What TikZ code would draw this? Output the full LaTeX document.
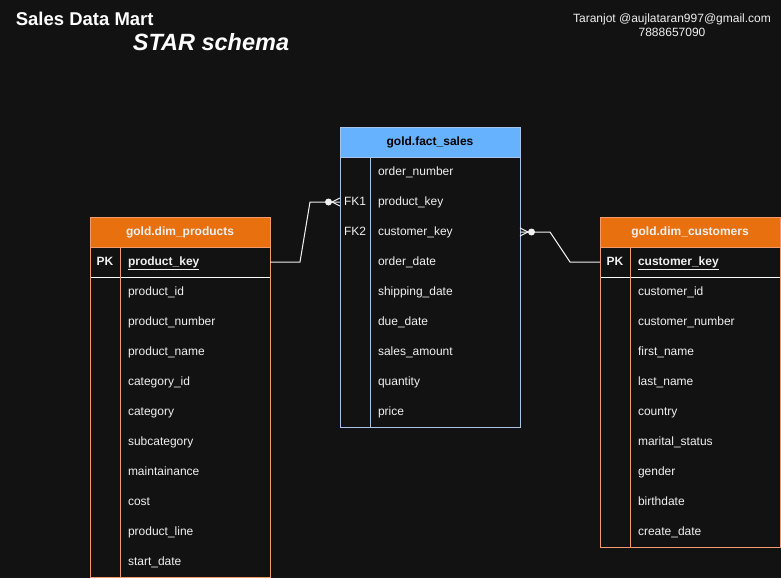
\documentclass[tikz,border=0pt]{standalone}
\usepackage{fontspec}
\setmainfont{Liberation Sans}
\usetikzlibrary{positioning}
\definecolor{bg}{HTML}{121212}
\definecolor{txt}{HTML}{F0F0F0}
\definecolor{dimfill}{HTML}{E8700F}
\definecolor{dimline}{HTML}{F59A6A}
\definecolor{factfill}{HTML}{66B2FF}
\definecolor{factline}{HTML}{A9C4EB}
\newcommand\rowfont{\fontsize{12}{14}\selectfont}
\tikzstyle{hd} = [rectangle, draw, minimum width=180pt, minimum height=30pt,
    inner sep=0pt, outer sep=0pt, font=\rowfont\bfseries]
\tikzstyle{dimhd} = [hd, fill=dimfill, draw=dimline, text=txt]
\tikzstyle{facthd} = [hd, fill=factfill, draw=factline, text=black]
\tikzstyle{col} = [rectangle, inner xsep=8pt, inner ysep=0pt, outer sep=0pt, text width=134pt,
    minimum height=30pt, text height=9.6pt, text depth=2.4pt, align=left, text=txt]
\tikzstyle{key} = [rectangle, inner sep=0pt, outer sep=0pt, minimum width=30pt, minimum height=30pt,
    text height=9.6pt, text depth=2.4pt, text=txt]
\tikzstyle{rel} = [draw=txt, line width=1pt]

\begin{document}
\begin{tikzpicture}[x=1pt,y=-1pt,line width=1pt,font=\rowfont]

  \useasboundingbox[fill=bg] (0,0) rectangle (781,578);

  % titles
  \node[anchor=west, text=white, font=\fontsize{18.5}{22}\selectfont\bfseries]
       (title) at (12,19) {Sales Data Mart};
  \node[text=white, font=\fontsize{23.5}{28}\selectfont\bfseries\itshape]
       (subtitle) at (211,42) {STAR schema};
  \node[text=txt, align=center, font=\rowfont] (who) at (672,25)
       {Taranjot @aujlataran997@gmail.com\\7888657090};

  % gold.dim_products
  \node[dimhd] (dp) at (180,232) {gold.dim\_products};
  \node[col, anchor=north east, font=\rowfont\bfseries] (dp1) at (dp.south east) {\underline{product\_key}};
  \node[col] (dp2)  [below=0pt of dp1]  {product\_id};
  \node[col] (dp3)  [below=0pt of dp2]  {product\_number};
  \node[col] (dp4)  [below=0pt of dp3]  {product\_name};
  \node[col] (dp5)  [below=0pt of dp4]  {category\_id};
  \node[col] (dp6)  [below=0pt of dp5]  {category};
  \node[col] (dp7)  [below=0pt of dp6]  {subcategory};
  \node[col] (dp8)  [below=0pt of dp7]  {maintainance};
  \node[col] (dp9)  [below=0pt of dp8]  {cost};
  \node[col] (dp10) [below=0pt of dp9]  {product\_line};
  \node[col] (dp11) [below=0pt of dp10] {start\_date};
  \node[key, font=\rowfont\bfseries] (pk1) [left=0pt of dp1] {PK};
  \draw[white] (dp.south west |- dp1.south) -- (dp1.south east);
  \draw[dimline] (dp.south west) rectangle (dp11.south east);
  \draw[dimline] (dp1.north west) -- (dp11.south west);

  % gold.fact_sales
  \node[facthd] (fs) at (430,142) {gold.fact\_sales};
  \node[col, anchor=north east] (fs1) at (fs.south east) {order\_number};
  \node[col] (fs2) [below=0pt of fs1] {product\_key};
  \node[col] (fs3) [below=0pt of fs2] {customer\_key};
  \node[col] (fs4) [below=0pt of fs3] {order\_date};
  \node[col] (fs5) [below=0pt of fs4] {shipping\_date};
  \node[col] (fs6) [below=0pt of fs5] {due\_date};
  \node[col] (fs7) [below=0pt of fs6] {sales\_amount};
  \node[col] (fs8) [below=0pt of fs7] {quantity};
  \node[col] (fs9) [below=0pt of fs8] {price};
  \node[key] (fk1) [left=0pt of fs2] {FK1};
  \node[key] (fk2) [left=0pt of fs3] {FK2};
  \draw[factline] (fs.south west) rectangle (fs9.south east);
  \draw[factline] (fs1.north west) -- (fs9.south west);

  % gold.dim_customers
  \node[dimhd] (dc) at (690,232) {gold.dim\_customers};
  \node[col, anchor=north east, font=\rowfont\bfseries] (dc1) at (dc.south east) {\underline{customer\_key}};
  \node[col] (dc2)  [below=0pt of dc1] {customer\_id};
  \node[col] (dc3)  [below=0pt of dc2] {customer\_number};
  \node[col] (dc4)  [below=0pt of dc3] {first\_name};
  \node[col] (dc5)  [below=0pt of dc4] {last\_name};
  \node[col] (dc6)  [below=0pt of dc5] {country};
  \node[col] (dc7)  [below=0pt of dc6] {marital\_status};
  \node[col] (dc8)  [below=0pt of dc7] {gender};
  \node[col] (dc9)  [below=0pt of dc8] {birthdate};
  \node[col] (dc10) [below=0pt of dc9] {create\_date};
  \node[key, font=\rowfont\bfseries] (pk2) [left=0pt of dc1] {PK};
  \draw[white] (dc.south west |- dc1.south) -- (dc1.south east);
  \draw[dimline] (dc.south west) rectangle (dc10.south east);
  \draw[dimline] (dc1.north west) -- (dc10.south west);

  % relations (one to zero-or-many)
  \path[rel] (dp1.east) -- ++(30,0) -- ([xshift=-30pt]fk1.west) -- (fk1.west);
  \fill[txt] ([xshift=-11.5pt]fk1.west) circle (3.5pt);
  \path[rel] ([xshift=-8pt]fk1.west) -- ++(8pt,4pt)
             ([xshift=-8pt]fk1.west) -- ++(8pt,-4pt);

  \path[rel] (fs3.east) -- ++(30,0) -- ([xshift=-30pt]pk2.west) -- (pk2.west);
  \fill[txt] ([xshift=11.5pt]fs3.east) circle (3.5pt);
  \path[rel] ([xshift=8pt]fs3.east) -- ++(-8pt,4pt)
             ([xshift=8pt]fs3.east) -- ++(-8pt,-4pt);
\end{tikzpicture}
\end{document}
